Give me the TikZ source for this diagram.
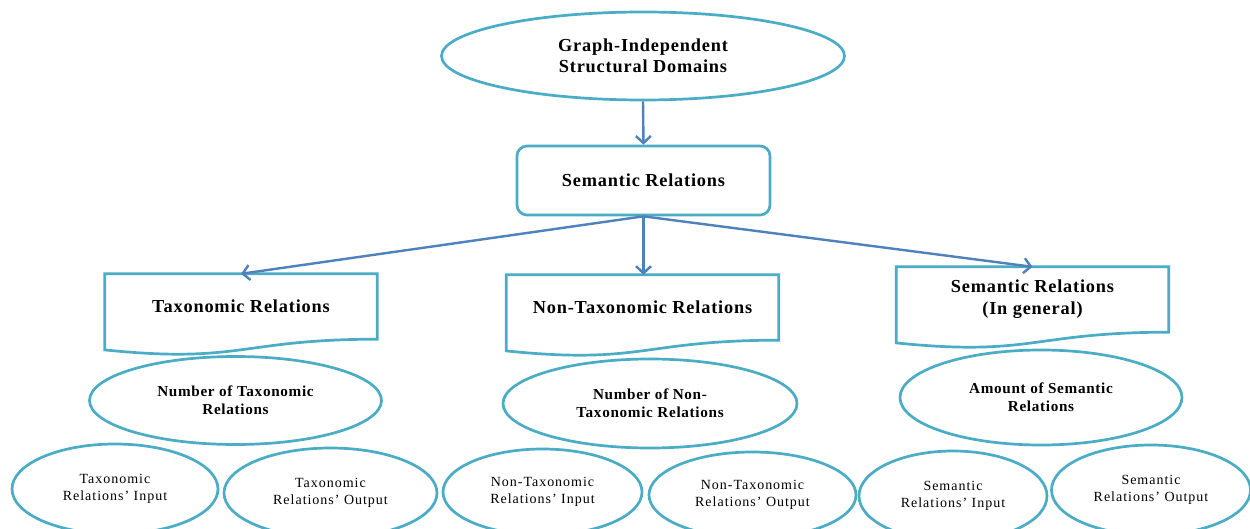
\documentclass[tikz,border=0pt]{standalone}
\usepackage{fontspec}
\setmainfont{Liberation Serif}
\newfontfamily\lsfont[LetterSpace=4.5]{Liberation Serif}
\newfontfamily\lssfont[LetterSpace=7]{Liberation Serif}
\usetikzlibrary{arrows.meta,calc,shapes.geometric}
\definecolor{bordc}{HTML}{4BACC6}
\definecolor{arrc}{HTML}{4F81BD}
\tikzset{
  ell/.style={ellipse, draw=bordc, line width=2.7pt, inner sep=0pt, align=center, text=black},
  tone/.style={font=\lsfont\bfseries\fontsize{18.3}{21}\selectfont},
  ttwo/.style={font=\lsfont\bfseries\fontsize{15.2}{18}\selectfont},
  tthree/.style={font=\lssfont\fontsize{14}{17.5}\selectfont},
  conn/.style={draw=arrc, line width=2.4pt, -{Straight Barb[length=7pt,width=15pt]}},
  docline/.style={draw=bordc, line width=2.7pt, line join=miter},
  docbox/.style={rectangle, inner sep=0pt, align=center, minimum width=272pt, minimum height=65pt},
}
\begin{document}
\begin{tikzpicture}[x=1pt,y=-1pt]
\useasboundingbox (0,0) rectangle (1250,529);
\fill[white] (0,0) rectangle (1250,529);

% top level
\node[ell, tone, minimum width=403pt, minimum height=88pt] (top) at (643,56) {Graph-Independent\\Structural Domains};
\node[draw=bordc, line width=2.7pt, rounded corners=10pt, minimum width=253pt, minimum height=69pt, tone] (sem) at (643.5,180.5) {Semantic Relations};

% document shapes
\node[docbox, tone] (tax) at (241,306.5) {Taxonomic Relations};
\node[docbox, tone] (non) at (642.5,307.5) {Non-Taxonomic Relations};
\node[docbox, tone] (gen) at (1032.5,299.5) {Semantic Relations\\[1pt](In general)};
\foreach \n in {tax,non,gen}
  \draw[docline] (\n.north west) -- (\n.north east) -- (\n.south east)
    .. controls (\n.south) and ($(\n.south)+(0,24.7)$) .. ($(\n.south west)+(0,10.7)$) -- cycle;

% arrows
\draw[conn] (top.south) -- (sem.north);
\draw[conn] (sem.south) -- (tax.north);
\draw[conn] (sem.south) -- (sem.south |- non.north);
\draw[conn] (sem.south) -- (gen.north);

% middle ellipses
\node[ell, ttwo, minimum width=292pt, minimum height=88pt] (ntax) at (235.5,400.5) {Number of Taxonomic\\Relations};
\node[ell, ttwo, minimum width=294pt, minimum height=89pt] (nnon) at (650,403.5) {Number of Non-\\Taxonomic Relations};
\node[ell, ttwo, minimum width=282pt, minimum height=95pt] (amt) at (1041,397.5) {Amount of Semantic\\Relations};

% bottom ellipses
\node[ell, tthree, minimum width=206pt, minimum height=90pt] (ti) at (115,489) {Taxonomic\\Relations’ Input};
\node[ell, tthree, minimum width=213pt, minimum height=90pt] (to) at (330.5,493) {Taxonomic\\Relations’ Output};
\node[ell, tthree, minimum width=199pt, minimum height=86pt] (ni) at (542.5,492) {Non-Taxonomic\\Relations’ Input};
\node[ell, tthree, minimum width=207pt, minimum height=86pt] (no) at (752.5,495) {Non-Taxonomic\\Relations’ Output};
\node[ell, tthree, minimum width=188pt, minimum height=90pt] (si) at (953,496) {Semantic\\Relations’ Input};
\node[ell, tthree, minimum width=199pt, minimum height=90pt] (so) at (1151,490) {Semantic\\Relations’ Output};
\end{tikzpicture}
\end{document}
